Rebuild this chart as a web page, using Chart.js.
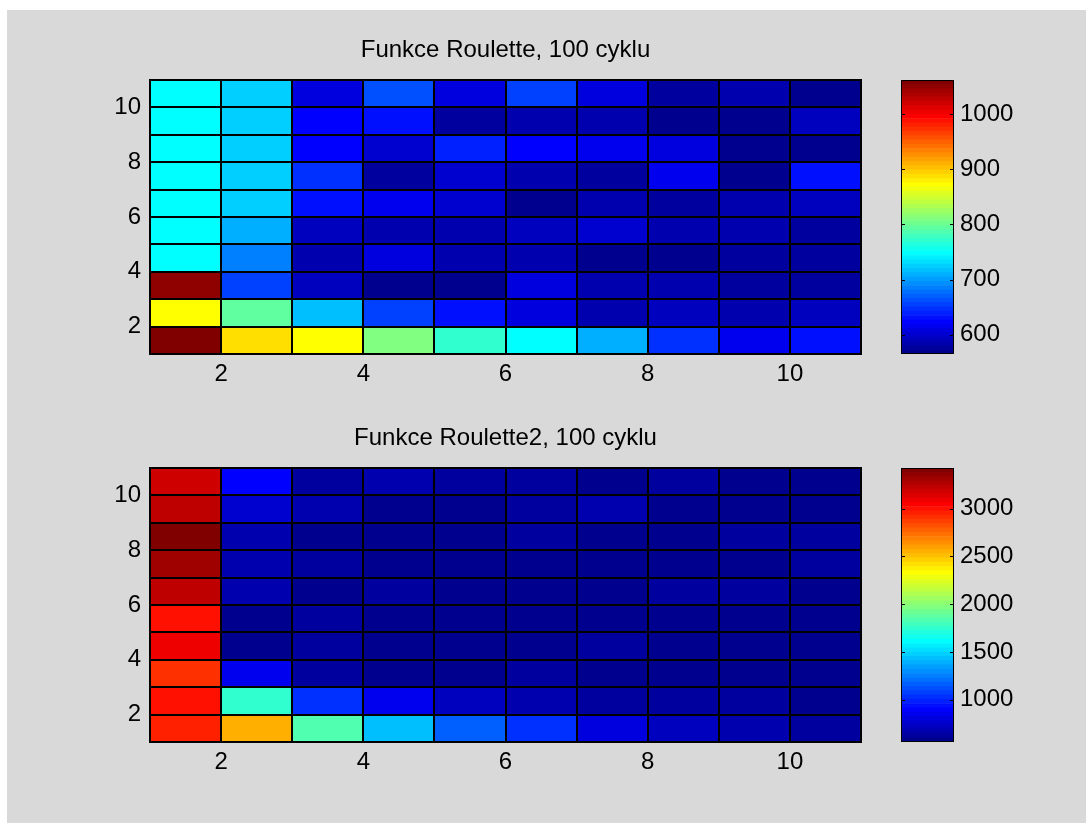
<!DOCTYPE html>
<html><head><meta charset="utf-8">
<script src="https://cdn.jsdelivr.net/npm/chart.js@4.4.1/dist/chart.umd.min.js"></script>
<style>
html,body{margin:0;padding:0;background:#fff;width:1086px;height:823px;overflow:hidden;}
#fig{position:absolute;left:7px;top:10px;width:1079px;height:813px;background:#d9d9d9;}
canvas{position:absolute;}
</style></head><body>
<div id="fig"></div>
<canvas id="h1" width="880" height="400" style="left:0;top:0"></canvas>
<canvas id="c1" width="206" height="400" style="left:880px;top:0"></canvas>
<canvas id="h2" width="880" height="400" style="left:0;top:388px"></canvas>
<canvas id="c2" width="206" height="400" style="left:880px;top:388px"></canvas>
<script>
// ---- data ----
const xEdges = [1,2,3,4,5,6,7,8,9,10];   // cell columns (left edge)
const yEdges = [1,2,3,4,5,6,7,8,9,10];   // cell rows (bottom edge)
const xTicks = [2,4,6,8,10];
const yTicks = [2,4,6,8,10];
const title1 = "Funkce Roulette, 100 cyklu";
const title2 = "Funkce Roulette2, 100 cyklu";
// rows from y=1 (bottom) to y=10 (top), columns x=1..10
const roulette = [
  [1062,887,872,810,771,747,709,647,615,631],
  [872,794,716,654,631,604,584,592,584,592],
  [1050,654,592,565,572,608,584,584,577,577],
  [747,685,584,608,584,584,572,569,577,577],
  [747,709,592,584,584,592,600,584,584,580],
  [747,724,631,615,600,569,584,577,584,592],
  [747,724,647,577,600,584,577,615,569,631],
  [747,724,623,600,639,623,615,608,569,569],
  [747,724,623,631,577,584,584,569,569,592],
  [747,724,608,662,608,654,604,577,584,569]
];
const roulette2 = [
  [2954,2551,1835,1432,1163,1029,805,716,671,626],
  [2999,1745,1029,850,716,671,626,626,626,581],
  [2909,850,626,581,581,626,581,581,581,581],
  [3088,581,626,581,581,581,626,581,581,581],
  [2999,590,626,581,581,581,581,581,581,581],
  [3223,671,581,626,581,581,581,626,626,581],
  [3312,680,626,559,581,581,581,581,590,626],
  [3424,671,581,581,581,626,581,581,626,626],
  [3223,760,671,581,581,626,650,590,581,585],
  [3178,895,626,671,626,626,590,626,581,581]
];
const cbTicks1 = [600,700,800,900,1000];
const cbTicks2 = [1000,1500,2000,2500,3000];

// ---- jet colormap (64 levels, MATLAB style) ----
function jet64(k){
  const u = i => (i>=1 && i<=47) ? (i<=16 ? i/16 : (i<=31 ? 1 : (48-i)/16)) : 0;
  const c = v => Math.round(Math.max(0,Math.min(1,v))*255);
  return `rgb(${c(u(k-24))},${c(u(k-8))},${c(u(k+8))})`;
}
function colorFor(v,cmin,cmax){
  const k = Math.min(64, Math.max(1, Math.floor((v-cmin)/(cmax-cmin)*64)+1));
  return jet64(k);
}

const FONT = '"Liberation Sans", Arial, Helvetica, sans-serif';
Chart.defaults.font.family = FONT;
Chart.defaults.color = '#000';

// cell edges drawn through the scales (like pcolor's black edges)
const edgePlugin = {
  id:'edges',
  afterDatasetsDraw(chart){
    const a = chart.chartArea, ctx = chart.ctx, xs = chart.scales.x, ys = chart.scales.y;
    const xe = xEdges.concat([xEdges[xEdges.length-1]+1]);
    const ye = yEdges.concat([yEdges[yEdges.length-1]+1]);
    ctx.save(); ctx.strokeStyle='#000'; ctx.lineWidth=2;
    ctx.beginPath();
    xe.forEach(v=>{ const p=Math.round(xs.getPixelForValue(v)); ctx.moveTo(p, Math.round(a.top)-1); ctx.lineTo(p, Math.round(a.bottom)+1); });
    ye.forEach(v=>{ const p=Math.round(ys.getPixelForValue(v)); ctx.moveTo(Math.round(a.left)-1, p); ctx.lineTo(Math.round(a.right)+1, p); });
    ctx.stroke();
    ctx.restore();
  }
};
const boxPlugin = {
  id:'box',
  afterDatasetsDraw(chart){
    const a = chart.chartArea, ctx = chart.ctx;
    ctx.save(); ctx.strokeStyle='#000'; ctx.lineWidth=1;
    ctx.strokeRect(Math.round(a.left)+0.5, Math.round(a.top)+0.5, Math.round(a.right-a.left)-1, Math.round(a.bottom-a.top)-1);
    ctx.restore();
  }
};
const cbTickPlugin = {
  id:'cbticks',
  afterDatasetsDraw(chart){
    const a = chart.chartArea, ctx = chart.ctx, ys = chart.scales.y;
    ctx.save(); ctx.strokeStyle='#000'; ctx.lineWidth=1;
    ys.ticks.forEach(t=>{
      const p = Math.round(ys.getPixelForValue(t.value))+0.5;
      ctx.beginPath();
      ctx.moveTo(a.left, p); ctx.lineTo(a.left+4, p);
      ctx.moveTo(a.right-4, p); ctx.lineTo(a.right, p);
      ctx.stroke();
    });
    ctx.restore();
  }
};

function makeHeat(id, matrix, title, cmin, cmax){
  const datasets = yEdges.map((y,ri)=>({
    data: xEdges.map(x=>({x: x+0.5, y:[y, y+1]})),
    backgroundColor: matrix[ri].map(v=>colorFor(v,cmin,cmax)),
    borderWidth:0, borderSkipped:false,
    grouped:false, barPercentage:1, categoryPercentage:1
  }));
  new Chart(document.getElementById(id), {
    type:'bar',
    data:{datasets},
    plugins:[edgePlugin],
    options:{
      responsive:false, animation:false, devicePixelRatio:1, events:[],
      layout:{padding:{left:100,right:19,top:38,bottom:6}},
      plugins:{legend:{display:false}, tooltip:{enabled:false},
        title:{display:true, fullSize:false, text:title, color:'#000',
          font:{size:24, weight:'normal', lineHeight:1, family:FONT},
          padding:{top:0,bottom:18}}},
      scales:{
        x:{type:'linear', min:1, max:11, offset:false,
          grid:{display:false, drawTicks:false}, border:{display:false},
          afterBuildTicks(s){ s.ticks = xTicks.map(v=>({value:v})); },
          afterFit(s){ s.height = 40; },
          ticks:{font:{size:24}, color:'#000', padding:6, maxRotation:0, autoSkip:false,
            callback:v=>String(v)}},
        y:{type:'linear', min:1, max:11, beginAtZero:false,
          grid:{display:false, drawTicks:false}, border:{display:false},
          afterBuildTicks(s){ s.ticks = yTicks.map(v=>({value:v})); },
          afterFit(s){ s.width = 50; },
          ticks:{font:{size:24}, color:'#000', padding:9, autoSkip:false,
            callback:v=>String(v)}}
      }
    }
  });
}

function makeBar(id, cmin, cmax, ticks){
  const step = (cmax-cmin)/64;
  const datasets = [];
  for(let i=0;i<64;i++){
    datasets.push({data:[[cmin+i*step, cmin+(i+1)*step]], backgroundColor:jet64(i+1),
      borderWidth:0, grouped:false, barPercentage:1, categoryPercentage:1});
  }
  new Chart(document.getElementById(id), {
    type:'bar',
    data:{labels:['cb'], datasets},
    plugins:[cbTickPlugin, boxPlugin],
    options:{
      responsive:false, animation:false, devicePixelRatio:1, events:[],
      layout:{padding:{left:21,right:0,top:80,bottom:46}},
      plugins:{legend:{display:false}, tooltip:{enabled:false}},
      scales:{
        x:{display:false},
        y:{position:'right', min:cmin, max:cmax, beginAtZero:false,
          grid:{display:false, drawTicks:false}, border:{display:false},
          afterBuildTicks(s){ s.ticks = ticks.map(v=>({value:v})); },
          afterFit(s){ s.width = 132; },
          ticks:{font:{size:24}, color:'#000', padding:6, autoSkip:false,
            callback:v=>String(v)}}
      }
    }
  });
}

const mn = m => Math.min(...m.flat()), mx = m => Math.max(...m.flat());
makeHeat('h1', roulette, title1, mn(roulette), mx(roulette));
makeBar('c1', mn(roulette), mx(roulette), cbTicks1);
makeHeat('h2', roulette2, title2, mn(roulette2), mx(roulette2));
makeBar('c2', mn(roulette2), mx(roulette2), cbTicks2);
</script>
</body></html>
